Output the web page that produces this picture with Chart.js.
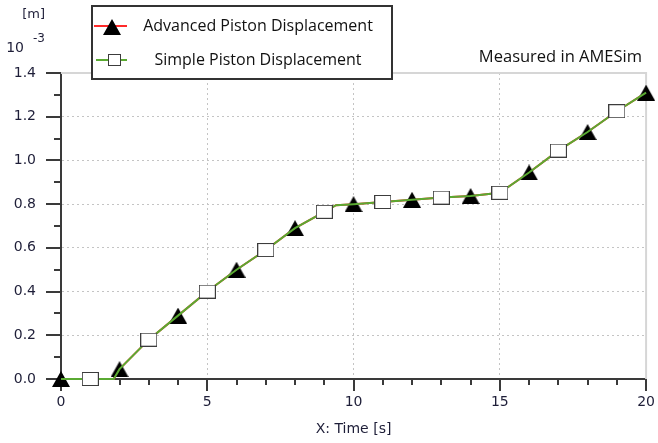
<!DOCTYPE html>
<html>
  <head>
    <meta charset="utf-8">
    <title>Piston Displacement</title>
    <script src="https://cdn.jsdelivr.net/npm/chart.js@4.4.0/dist/chart.umd.min.js"></script>
    <style>
      body { margin: 0; background: #fff; }
    </style>
  </head>
  <body>
    <canvas id="chart0" width="658" height="443"></canvas>
    <script>
      // samples of the curve, displacement in 1e-3 m
      var timeS = [0, 1, 1.8, 2, 3, 4, 5, 6, 7, 8, 9, 9.4, 10, 11, 12, 13, 14, 15, 16, 17, 18, 19, 20];
      var advancedDisp = [0, 0, 0, 0.045, 0.18, 0.29, 0.40, 0.50, 0.59, 0.69, 0.765, 0.795, 0.80, 0.81, 0.82, 0.83, 0.837, 0.852, 0.945, 1.045, 1.13, 1.225, 1.31];
      var simpleDisp   = [0, 0, 0, 0.045, 0.18, 0.29, 0.40, 0.50, 0.59, 0.69, 0.765, 0.795, 0.80, 0.81, 0.82, 0.83, 0.837, 0.852, 0.945, 1.045, 1.13, 1.225, 1.31];
      // times where a marker is drawn
      var advancedMarks = [0, 2, 4, 6, 8, 10, 12, 14, 16, 18, 20];
      var simpleMarks = [1, 3, 5, 7, 9, 11, 13, 15, 17, 19];
      var seriesNames = ['Advanced Piston Displacement', 'Simple Piston Displacement'];
      var xTitle = 'X: Time [s]';
      var yUnit = '[m]';
      var noteText = 'Measured in AMESim';

      var textColor = '#1e1e38';
      var tickFont = 'DejaVu Sans';

      function toPoints(xs, ys) {
        return xs.map(function (x, i) { return {x: x, y: ys[i]}; });
      }

      // marker pictures
      function triangle(w, h) {
        var c = document.createElement('canvas');
        c.width = w; c.height = h;
        var g = c.getContext('2d');
        g.fillStyle = '#000';
        g.beginPath(); g.moveTo(w / 2, 0); g.lineTo(w, h); g.lineTo(0, h); g.closePath(); g.fill();
        return c;
      }
      function square(bw, bh) {
        var c = document.createElement('canvas');
        c.width = bw + 2; c.height = bh + 2;
        var g = c.getContext('2d');
        g.fillStyle = '#fff'; g.fillRect(1, 1, bw, bh);
        g.strokeStyle = '#3c3c3c'; g.lineWidth = 1; g.strokeRect(0.5, 0.5, bw + 1, bh + 1);
        return c;
      }
      var triImg = triangle(18, 16);
      var sqImg = square(15, 12);
      var sqLegend = square(11, 10);

      var extras = {
        id: 'extras',
        beforeDatasetsDraw: function (chart) {
          var ctx = chart.ctx, a = chart.chartArea;
          var xs = chart.scales.x, ys = chart.scales.y;
          ctx.save();
          // light frame top and right
          ctx.strokeStyle = '#d6d6d6'; ctx.lineWidth = 2;
          ctx.beginPath(); ctx.moveTo(a.left, a.top); ctx.lineTo(a.right, a.top); ctx.lineTo(a.right, a.bottom); ctx.stroke();
          // tick marks, long on labelled ticks
          ctx.strokeStyle = '#3a3a3a'; ctx.lineWidth = 2;
          xs.ticks.forEach(function (t) {
            var px = Math.round(xs.getPixelForValue(t.value));
            var len = t.value % 5 === 0 ? 12 : 6;
            ctx.beginPath(); ctx.moveTo(px, a.bottom); ctx.lineTo(px, a.bottom + len); ctx.stroke();
          });
          ys.ticks.forEach(function (t) {
            var py = Math.round(ys.getPixelForValue(t.value));
            var len = Math.round(t.value * 10) % 2 === 0 ? 15 : 7;
            ctx.beginPath(); ctx.moveTo(a.left, py); ctx.lineTo(a.left - len, py); ctx.stroke();
          });
          ctx.restore();
        },
        afterDraw: function (chart) {
          var ctx = chart.ctx;
          ctx.save();
          ctx.fillStyle = textColor;
          ctx.textBaseline = 'middle';
          ctx.textAlign = 'right';
          ctx.font = '13px "' + tickFont + '"';
          ctx.fillText(yUnit, 45, 15);
          ctx.font = '14px "' + tickFont + '"';
          ctx.fillText('10', 24, 48);
          ctx.font = '12px "' + tickFont + '"';
          ctx.fillText('-3', 45, 39);
          ctx.fillStyle = '#111';
          ctx.font = '16.5px "Open Sans"';
          ctx.fillText(noteText, 642, 57);

          // legend box
          ctx.fillStyle = '#fff';
          ctx.fillRect(92, 6, 300, 73);
          ctx.strokeStyle = '#333'; ctx.lineWidth = 2;
          ctx.strokeRect(92, 6, 300, 73);
          ctx.lineWidth = 2;
          ctx.strokeStyle = '#ff2a2a';
          ctx.beginPath(); ctx.moveTo(94, 26); ctx.lineTo(127, 26); ctx.stroke();
          ctx.drawImage(triImg, 103, 19);
          ctx.strokeStyle = '#5aaa32';
          ctx.beginPath(); ctx.moveTo(96, 60); ctx.lineTo(127, 60); ctx.stroke();
          ctx.drawImage(sqLegend, 108, 54);
          ctx.fillStyle = '#111';
          ctx.textAlign = 'center';
          ctx.font = '16px "Open Sans"';
          ctx.fillText(seriesNames[0], 258, 26);
          ctx.fillText(seriesNames[1], 258, 60);
          ctx.restore();
        }
      };

      function markRadius(marks) {
        return function (c) {
          return marks.indexOf(timeS[c.dataIndex]) >= 0 ? 8 : 0;
        };
      }

      var ctx0 = document.getElementById('chart0').getContext('2d');
      var chart0 = new Chart(ctx0, {
          type: 'line',
          data: {
              datasets: [{
                  label: seriesNames[0],
                  data: toPoints(timeS, advancedDisp),
                  borderColor: '#ff2a2a',
                  borderWidth: 2,
                  pointStyle: triImg,
                  pointRadius: markRadius(advancedMarks),
                  pointHoverRadius: markRadius(advancedMarks),
                  clip: false,
                  order: 2
              }, {
                  label: seriesNames[1],
                  data: toPoints(timeS, simpleDisp),
                  borderColor: '#5aaa32',
                  borderWidth: 2,
                  pointStyle: sqImg,
                  pointRadius: markRadius(simpleMarks),
                  pointHoverRadius: markRadius(simpleMarks),
                  clip: false,
                  order: 1
              }]
          },
          options: {
              responsive: false,
              animation: false,
              layout: {padding: {top: 73, right: 10, left: 0, bottom: 0}},
              plugins: {legend: {display: false}, tooltip: {enabled: false}},
              scales: {
                  x: {
                      type: 'linear', min: 0, max: 20,
                      afterFit: function (s) { s.height = 64; },
                      ticks: {
                          stepSize: 1, autoSkip: false, maxRotation: 0, padding: 3,
                          color: textColor, font: {family: tickFont, size: 14},
                          callback: function (v) { return v % 5 === 0 ? String(v) : ''; }
                      },
                      grid: {
                          color: function (c) { return c.tick && c.tick.value % 5 === 0 ? '#c4c4c4' : 'transparent'; },
                          tickLength: 12, tickColor: 'transparent'
                      },
                      border: {color: '#3a3a3a', width: 2, dash: [2, 3]},
                      title: {display: true, text: xTitle, color: textColor, font: {family: tickFont, size: 14}, padding: {top: 0, bottom: 5}}
                  },
                  y: {
                      min: 0, max: 1.4,
                      afterFit: function (s) { s.width = 61; },
                      ticks: {
                          stepSize: 0.1, autoSkip: false, padding: 10,
                          color: textColor, font: {family: tickFont, size: 14},
                          callback: function (v) { return Math.round(v * 10) % 2 === 0 ? v.toFixed(1) : ''; }
                      },
                      grid: {
                          color: function (c) { return c.tick && Math.round(c.tick.value * 10) % 2 === 0 ? '#c4c4c4' : 'transparent'; },
                          tickLength: 15, tickColor: 'transparent'
                      },
                      border: {color: '#3a3a3a', width: 2, dash: [2, 3]}
                  }
              }
          },
          plugins: [extras]
      });
    </script>
  </body>
</html>
